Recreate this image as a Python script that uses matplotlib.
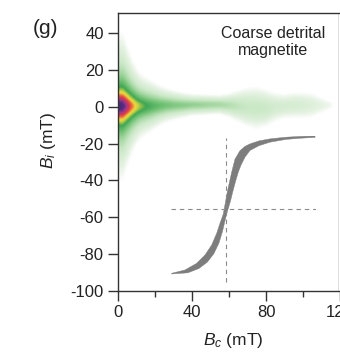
import numpy as np
import matplotlib
matplotlib.use('Agg')
import matplotlib.pyplot as plt
from matplotlib.colors import LinearSegmentedColormap, LogNorm

plt.rcParams['font.family'] = ['Liberation Sans', 'DejaVu Sans']
plt.rcParams['mathtext.fontset'] = 'custom'
plt.rcParams['mathtext.rm'] = 'Liberation Sans'
plt.rcParams['mathtext.it'] = 'Liberation Sans:italic'
plt.rcParams['axes.unicode_minus'] = False

# FORC ridge: peak density, half-width and centre (mT) along Bc
ridge_bc = [0, 1, 2, 3, 4, 5, 6, 7, 8, 9, 10, 12, 15, 18, 22, 26, 30, 35, 40, 45,
            50, 55, 60, 65, 70, 75, 80, 85, 90, 95, 100, 105, 110, 115, 120, 125]
ridge_peak = [1.0, 1.0, 0.97, 0.9, 0.8, 0.7, 0.6, 0.52, 0.45, 0.39, 0.33, 0.26,
              0.2, 0.16, 0.13, 0.11, 0.095, 0.085, 0.075, 0.068, 0.06, 0.055,
              0.045, 0.035, 0.03, 0.03, 0.028, 0.022, 0.02, 0.02, 0.018, 0.015,
              0.012, 0.009, 0.0, 0.0]
ridge_width = [7.5, 7.6, 7.8, 7.6, 7.3, 7.0, 6.8, 6.5, 6.2, 6.0, 5.8, 5.5, 5.3,
               5.1, 4.5, 4.0, 3.7, 3.3, 3.0, 3.0, 3.0, 3.0, 4.0, 6.0, 8.0, 8.7,
               8.0, 7.0, 6.3, 6.5, 7.0, 7.5, 6.0, 4.0, 4.0, 4.0]
ridge_centre = [0.5, 0.5, 0.5, 0.5, 0.5, 0.5, 0.5, 0.5, 0.5, 0.5, 0.5, 0.5, 0.5,
                0.6, 0.8, 1.0, 1.0, 1.0, 1.2, 1.2, 1.3, 1.3, 1.0, 0.5, 0, -0.5,
                -0.5, 0, 0.5, 1.0, 1.0, 1.0, 1.0, 1.0, 1.0, 1.0]
profile_power = 1.5

# colour scale levels
level_values = [0.006, 0.012, 0.03, 0.06, 0.12, 0.2, 0.3, 0.38, 0.5, 0.62, 0.75, 0.9, 1.0]
level_colors = ['#ffffff', '#e4f2e1', '#cae8c6', '#a4d7a1', '#6cbf70', '#3ea655',
                '#c2d044', '#f0dc3c', '#ea6a3c', '#d8344e', '#a83a86', '#5e2d84', '#48287a']

# hysteresis loop (upper and lower branch), inset units
loop_upper_h = [-54.3, -41, -29.3, -21, -14.3, -9.3, -6, -2.7, -0.5, 1.3, 3.5,
                5.7, 9, 14, 19, 24, 33, 44, 60, 75, 89]
loop_upper_m = [-64.3, -61, -54.3, -46, -36, -24.3, -14.3, -5, 7, 17, 27, 37,
                50, 58.5, 62.8, 65.3, 68.3, 70.3, 72, 72.8, 73.3]
loop_lower_h = [-54.3, -38, -27, -18.5, -12, -7, -3.5, -0.8, 1.8, 4.5, 6.7, 9.5,
                12.3, 15, 19, 24, 33, 44, 60, 75, 89]
loop_lower_m = [-65, -63.8, -59.5, -53, -44.5, -34, -22.5, -11, -1, 8, 17, 27.5,
                37, 44, 52, 58.7, 63.5, 67, 69.8, 71, 71.8]

fig = plt.figure(figsize=(3.4, 3.6), dpi=100)
ax = fig.add_axes([0.348, 0.1925, 0.6787, 0.7706])

# build the density grid from the ridge profile
bc = np.arange(0, 125.5, 0.5)
bi = np.arange(-100, 51.5, 0.5)
peak = np.interp(bc, ridge_bc, ridge_peak)
width = np.interp(bc, ridge_bc, ridge_width)
centre = np.interp(bc, ridge_bc, ridge_centre)
dens = peak[None, :] / (1 + ((bi[:, None] - centre[None, :]) / width[None, :]) ** 2) ** profile_power

lo = np.log10(level_values[0])
pos = [(np.log10(v) - lo) / (-lo) for v in level_values]
cmap = LinearSegmentedColormap.from_list('forc', list(zip(pos, level_colors)))
cmap.set_under('white')
ax.imshow(dens, extent=(0, 125, -100, 51), origin='lower', aspect='auto',
          cmap=cmap, norm=LogNorm(vmin=level_values[0], vmax=1.0),
          interpolation='bilinear', zorder=0)

ax.set_xlim(0, 125)
ax.set_ylim(-100, 51)
ax.set_xticks([0, 40, 80, 120])
ax.set_xticks([20, 60, 100], minor=True)
ax.set_yticks(range(-100, 41, 20))
ax.tick_params(which='major', direction='out', length=7, width=1, labelsize=12,
               pad=3.5, color='#333333', labelcolor='#222222')
ax.tick_params(which='minor', direction='out', length=4, width=1, color='#333333')
for s in ax.spines.values():
    s.set_linewidth(1.0)
    s.set_color('#333333')

ax.set_xlabel('$B_c$ (mT)', fontsize=12.5, color='#222222')
ax.set_ylabel('$B_i$ (mT)', fontsize=12.5, color='#222222')
ax.xaxis.set_label_coords(0.497, -0.145)
ax.yaxis.set_label_coords(-0.26, 0.543)

ax.text(0.670, 0.897, 'Coarse detrital\nmagnetite', transform=ax.transAxes,
        ha='center', va='center', fontsize=11.5, color='#222222', linespacing=1.15)
fig.text(0.135, 0.922, '(g)', fontsize=15, ha='center', va='center', color='#222222')

# inset sketch of the hysteresis loop
ins = ax.inset_axes([28.5, -95.8, 78.6, 79.9], transform=ax.transData)
ins.set_xlim(-55, 90)
ins.set_ylim(-74, 73)
ins.axis('off')
ins.patch.set_alpha(0)
ins.plot([0, 0], [-73, 71], color='#8a8a8a', lw=0.8, ls=(0, (4, 3.5)))
ins.plot([-55, 90], [0, 0], color='#8a8a8a', lw=0.8, ls=(0, (4, 3.5)))
ins.fill(np.concatenate([loop_upper_h, loop_lower_h[::-1]]),
         np.concatenate([loop_upper_m, loop_lower_m[::-1]]),
         color='#7d7d7d', lw=0.3, ec='#7d7d7d')

fig.savefig('out.png', dpi=100)
